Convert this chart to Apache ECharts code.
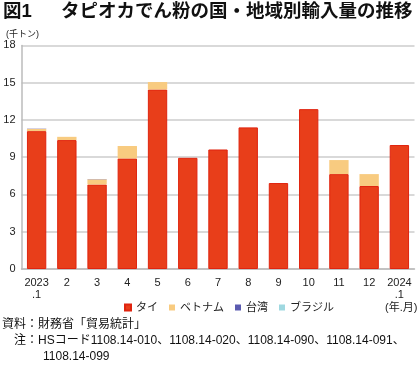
<!DOCTYPE html>
<html>
<head>
<meta charset="utf-8">
<script src="https://cdn.jsdelivr.net/npm/echarts@6/dist/echarts.min.js"></script>
<style>
  html, body { margin: 0; padding: 0; background: #fff; }
  #main { width: 420px; height: 375px; }
</style>
</head>
<body>
<div id="main"></div>
<script>
// 月別カテゴリ
let months = ['2023\n.1', '2', '3', '4', '5', '6', '7', '8', '9', '10', '11', '12', '2024\n.1'];
// 国別輸入量（千トン）
let thai    = [11.1, 10.38, 6.8, 8.9, 14.45, 8.95, 9.62, 11.4, 6.92, 12.87, 7.64, 6.68, 9.98];
let vietnam = [0.18, 0.26, 0.42, 1.0, 0.6, 0, 0, 0, 0, 0, 1.13, 0.96, 0];
let taiwan  = [0.02, 0, 0.02, 0, 0, 0, 0, 0, 0, 0, 0, 0, 0];
let brazil  = [0, 0, 0, 0, 0, 0, 0, 0, 0, 0, 0, 0, 0];
let yTicks = { min: 0, max: 18, interval: 3 };

let font = '"Liberation Sans", "Noto Sans CJK JP", sans-serif';
let chart = echarts.init(document.getElementById('main'));

chart.setOption({
  animation: false,
  textStyle: { fontFamily: font },
  grid: { left: 21.5, right: 5.5, top: 45.4, bottom: 106 },
  legend: {
    left: 119, top: 297,
    itemWidth: 6, itemHeight: 6, itemGap: 11,
    icon: 'rect',
    textStyle: { fontSize: 11, color: '#222', fontFamily: font },
    data: ['タイ', 'ベトナム', '台湾', 'ブラジル']
  },
  xAxis: {
    type: 'category',
    data: months,
    axisLine: { lineStyle: { color: '#bbb', width: 1.5 } },
    axisTick: { show: false },
    axisLabel: { interval: 0, color: '#222', fontSize: 11, margin: 8, lineHeight: 12, fontFamily: font }
  },
  yAxis: {
    type: 'value',
    min: yTicks.min, max: yTicks.max, interval: yTicks.interval,
    axisLine: { show: true, lineStyle: { color: '#bbb', width: 1.5 } },
    axisTick: { show: false },
    axisLabel: { color: '#222', fontSize: 11, margin: 6, fontFamily: font },
    splitLine: { lineStyle: { color: '#ccc', width: 1.5 } }
  },
  series: [
    { name: 'タイ', type: 'bar', stack: 'all', barWidth: '64%', data: thai,
      itemStyle: { color: '#e83e1a', borderColor: '#e0240f', borderWidth: 1 } },
    { name: 'ベトナム', type: 'bar', stack: 'all', data: vietnam,
      itemStyle: { color: '#f8cb80' } },
    { name: '台湾', type: 'bar', stack: 'all', data: taiwan,
      itemStyle: { color: '#5b5bb0' } },
    { name: 'ブラジル', type: 'bar', stack: 'all', data: brazil,
      itemStyle: { color: '#9fd8e0' } }
  ],
  graphic: [
    { type: 'text', left: 3, top: 3, style: { text: '図1', font: 'bold 18.5px ' + font, fill: '#111' } },
    { type: 'text', left: 61, top: 3, style: { text: 'タピオカでん粉の国・地域別輸入量の推移', font: 'bold 18.5px ' + font, fill: '#111' } },
    { type: 'text', left: 6, top: 30, style: { text: '(千トン)', font: '9px ' + font, fill: '#222' } },
    { type: 'text', left: 385, top: 302, style: { text: '(年.月)', font: '11px ' + font, fill: '#222' } },
    { type: 'text', left: 2, top: 319, style: { text: '資料：財務省「貿易統計」', font: '12px ' + font, fill: '#111' } },
    { type: 'text', left: 14, top: 335, style: { text: '注：HSコード1108.14-010、1108.14-020、1108.14-090、1108.14-091、', font: '12px ' + font, fill: '#111' } },
    { type: 'text', left: 43, top: 351, style: { text: '1108.14-099', font: '12px ' + font, fill: '#111' } }
  ]
});
</script>
</body>
</html>
